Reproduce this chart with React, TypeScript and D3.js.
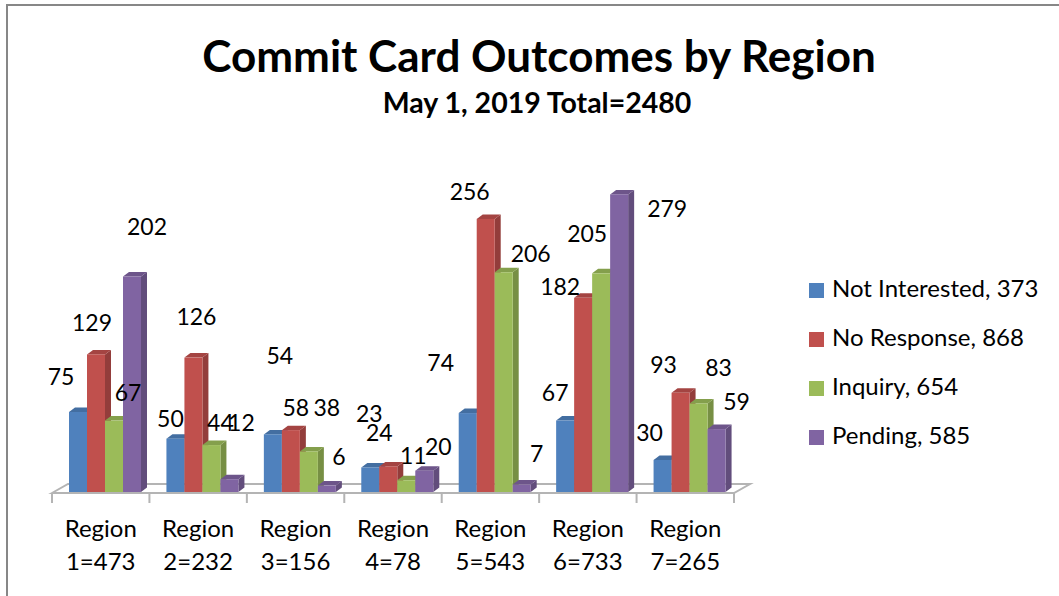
import React from 'react';
import * as d3 from 'd3';

// chart data
const categories = [
  'Region 1=473',
  'Region 2=232',
  'Region 3=156',
  'Region 4=78',
  'Region 5=543',
  'Region 6=733',
  'Region 7=265',
];
const seriesNames = ['Not Interested', 'No Response', 'Inquiry', 'Pending'];
const seriesTotals = [373, 868, 654, 585];
const notInterested = [75, 50, 54, 23, 74, 67, 30];
const noResponse = [129, 126, 58, 24, 256, 182, 93];
const inquiry = [67, 44, 38, 11, 206, 205, 83];
const pending = [202, 12, 6, 20, 7, 279, 59];
const seriesValues = [notInterested, noResponse, inquiry, pending];
const seriesColors = ['#4F81BD', '#C0504D', '#9BBB59', '#8064A2'];

// Excel scatters 3D data labels around; nudges from the bar top, per series / region
const labelNudge = [
  [[-17, -35], [-5, -20], [7, -79], [-1, -54], [-27, -50], [-10, -28], [-13, -27]],
  [[-4, -32], [3, -41], [5, -22], [-9, -34], [-16, -27], [-23, -11], [-17, -28]],
  [[14, -28], [9, -22], [18, -44], [7, -25], [27, -19], [-14, -40], [20, -36]],
  [[15, -50], [12, -56], [12, -29], [14, -24], [15, -31], [48, 14], [20, -27]],
];

const W = 1059;
const H = 596;
const FONT = 'Lato, "Open Sans", sans-serif';

const App = () => {
  const x = d3.scaleBand().domain(categories).range([52, 734]);
  const inner = d3.scaleBand().domain(seriesNames).range([17, 89]);
  const y = d3.scaleLinear().domain([0, 300]).range([492, 172]);

  // 3D depth of bars and floor
  const dx = 6;
  const dy = -4.5;
  const floorDx = 16;
  const floorDy = -9;

  const [x0, x1] = x.range();
  const base = y(0);
  const floorFront = base + 1;
  const floor = [
    [x0, floorFront],
    [x0 + floorDx, floorFront + floorDy],
    [x1 + floorDx, floorFront + floorDy],
    [x1, floorFront],
  ];
  const ticks = [...categories.map((c) => x(c)), x1];

  const bars = [];
  const labels = [];
  categories.forEach((cat, i) => {
    seriesNames.forEach((s, j) => {
      const v = seriesValues[j][i];
      const bx0 = x(cat) + inner(s);
      const bx1 = bx0 + inner.bandwidth();
      const top = y(v);
      const c = seriesColors[j];
      const side = d3.color(c).darker(0.75).formatHex();
      const topC = d3.color(c).darker(0.45).formatHex();
      bars.push(
        <g key={`b-${i}-${j}`}>
          <polygon
            points={`${bx1},${top} ${bx1 + dx},${top + dy} ${bx1 + dx},${base + dy} ${bx1},${base}`}
            fill={side}
          />
          <polygon
            points={`${bx0},${top} ${bx0 + dx},${top + dy} ${bx1 + dx},${top + dy} ${bx1},${top}`}
            fill={topC}
          />
          <rect x={bx0} y={top} width={bx1 - bx0} height={base - top} fill={c} />
        </g>
      );
      const [nx, ny] = labelNudge[j][i];
      labels.push(
        <text
          key={`l-${i}-${j}`}
          x={(bx0 + bx1) / 2 + nx}
          y={top + ny}
          dy="0.36em"
          textAnchor="middle"
          fontSize={23}
          fill="#000"
        >
          {v}
        </text>
      );
    });
  });

  return (
    <svg
      width={W}
      height={H}
      style={{ position: 'absolute', left: 0, top: 0, background: '#fff' }}
      fontFamily={FONT}
    >
      <rect x={7} y={5} width={W + 10} height={H + 10} fill="#fff" stroke="#878787" strokeWidth={2} />

      <text x={539} y={72} textAnchor="middle" fontSize={44} fontWeight={700}>
        Commit Card Outcomes by Region
      </text>
      <text x={537} y={113} textAnchor="middle" fontSize={28.5} fontWeight={700}>
        May 1, 2019 Total=2480
      </text>

      {/* floor */}
      <polygon
        points={floor.map((p) => p.join(',')).join(' ')}
        fill="#fff"
        stroke="#b4b4b4"
        strokeWidth={2}
      />
      {ticks.map((t, i) => (
        <line key={`t-${i}`} x1={t} x2={t} y1={floorFront} y2={floorFront + 10} stroke="#b4b4b4" strokeWidth={2} />
      ))}

      {bars}
      {labels}

      {categories.map((cat) => {
        const [first, ...rest] = cat.split(' ');
        const cx = x(cat) + x.bandwidth() / 2;
        return (
          <g key={`c-${cat}`}>
            <text x={cx} y={537} textAnchor="middle" fontSize={24}>
              {first}
            </text>
            <text x={cx} y={570} textAnchor="middle" fontSize={24}>
              {rest.join(' ')}
            </text>
          </g>
        );
      })}

      {seriesNames.map((s, j) => (
        <g key={`lg-${s}`} transform={`translate(809, ${283 + j * 49})`}>
          <rect width={15} height={15} fill={seriesColors[j]} />
          <text x={23} y={14} fontSize={24}>
            {`${s}, ${seriesTotals[j]}`}
          </text>
        </g>
      ))}
    </svg>
  );
};

export default App;
